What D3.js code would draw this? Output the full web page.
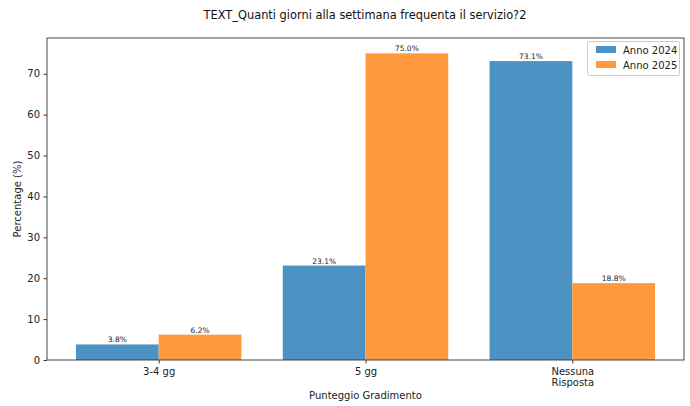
<!DOCTYPE html>
<html><head><meta charset="utf-8">
<script src="https://cdn.jsdelivr.net/npm/d3@7"></script>
<style>body{margin:0;background:#fff}svg{display:block;font-family:"DejaVu Sans",sans-serif}</style>
</head><body>
<svg id="c" width="690" height="406"></svg>
<script>
const categories = ["3-4 gg", "5 gg", "Nessuna\nRisposta"];
const seriesNames = ["Anno 2024", "Anno 2025"];
const values2024 = [3.8, 23.1, 73.1];
const values2025 = [6.2, 75.0, 18.8];
const yTicks = [0, 10, 20, 30, 40, 50, 60, 70];
const colors = ["#4c92c3", "#ff993e"];

const svg = d3.select("#c");
const L = 47, R = 684, T = 38, B = 360;
const barW = 0.4;
const x = d3.scaleLinear().domain([-0.54, categories.length - 1 + 0.54]).range([L, R]);
const yMax = d3.max(values2024.concat(values2025)) * 1.05;
const y = d3.scaleLinear().domain([0, yMax]).range([B, T]);

svg.append("text").attr("x", 365).attr("y", 19).attr("text-anchor", "middle")
  .attr("font-size", 11.4).attr("fill", "#111").text("TEXT_Quanti giorni alla settimana frequenta il servizio?2");

const series = [values2024, values2025];
series.forEach((vals, si) => {
  const g = svg.append("g");
  vals.forEach((v, i) => {
    const x0 = x(i + (si === 0 ? -barW : 0));
    const x1 = x(i + (si === 0 ? 0 : barW));
    g.append("rect").attr("x", x0).attr("y", y(v)).attr("width", x1 - x0).attr("height", B - y(v))
      .attr("fill", colors[si]);
    g.append("text").attr("x", (x0 + x1) / 2).attr("y", y(v) - 2).attr("text-anchor", "middle")
      .attr("font-size", 7.5).attr("fill", "#222").text(v.toFixed(1) + "%");
  });
});

// axes
const yAxis = d3.axisLeft(y).tickValues(yTicks).tickSize(3.5).tickPadding(3.5);
const gy = svg.append("g").attr("transform", `translate(${L},0)`).call(yAxis);
gy.select(".domain").remove();
gy.selectAll("text").attr("font-size", 10).attr("fill", "#222").attr("font-family", "DejaVu Sans");
gy.selectAll("line").attr("stroke", "#333");

const xAxis = d3.axisBottom(x).tickValues(categories.map((_, i) => i)).tickSize(3.5).tickFormat(() => "");
const gx = svg.append("g").attr("transform", `translate(0,${B})`).call(xAxis);
gx.select(".domain").remove();
gx.selectAll("line").attr("stroke", "#333");
gx.selectAll(".tick").each(function(d) {
  const lines = categories[d].split("\n");
  const t = d3.select(this).append("text").attr("fill", "#222").attr("font-size", 10)
    .attr("text-anchor", "middle").attr("font-family", "DejaVu Sans");
  lines.forEach((ln, k) => t.append("tspan").attr("x", 0).attr("y", 15 + k * 11).text(ln));
});

svg.append("rect").attr("x", L).attr("y", T).attr("width", R - L).attr("height", B - T)
  .attr("fill", "none").attr("stroke", "#333").attr("stroke-width", 0.9);

svg.append("text").attr("x", (L + R) / 2).attr("y", 399).attr("text-anchor", "middle")
  .attr("font-size", 10).attr("fill", "#222").text("Punteggio Gradimento");
svg.append("text").attr("transform", `translate(21,${(T + B) / 2}) rotate(-90)`)
  .attr("text-anchor", "middle").attr("font-size", 10).attr("fill", "#222").text("Percentage (%)");

// legend
const lg = svg.append("g");
lg.append("rect").attr("x", 587.5).attr("y", 41.5).attr("width", 92).attr("height", 34).attr("rx", 2)
  .attr("fill", "#fff").attr("fill-opacity", 0.8).attr("stroke", "#ccc");
seriesNames.forEach((n, i) => {
  lg.append("rect").attr("x", 596).attr("y", 46 + i * 15).attr("width", 20).attr("height", 7).attr("fill", colors[i]);
  lg.append("text").attr("x", 623).attr("y", 53.5 + i * 15).attr("font-size", 10).attr("fill", "#222").text(n);
});
</script>
</body></html>
